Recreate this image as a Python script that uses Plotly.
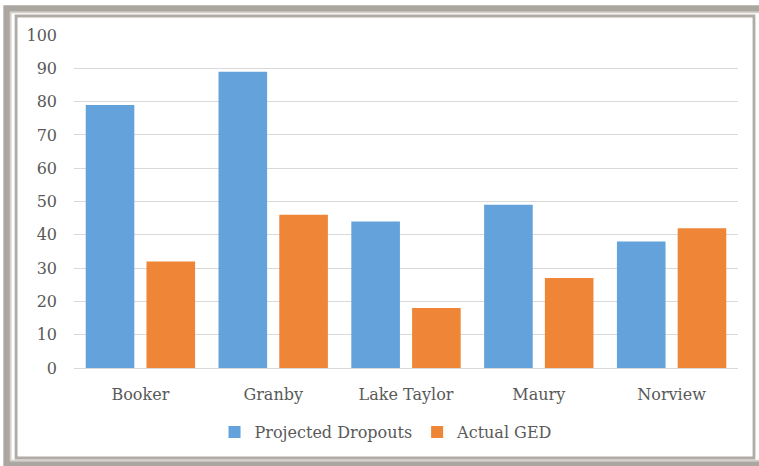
import plotly.graph_objects as go

categories = ["Booker", "Granby", "Lake Taylor", "Maury", "Norview"]
projected_dropouts = [79, 89, 44, 49, 38]
actual_ged = [32, 46, 18, 27, 42]
y_ticks = [0, 10, 20, 30, 40, 50, 60, 70, 80, 90, 100]

W, H = 759, 466
L, R, T, B = 73.5, 20.5, 35, 98
PW, PH = W - L - R, H - T - B

def px(x):
    return (x - L) / PW

def py(y):
    return (H - B - y) / PH

FONT = "DejaVu Serif"
FS = 16
TXT = "#595959"
fig = go.Figure()
fig.add_trace(go.Bar(name="Projected Dropouts", x=categories, y=projected_dropouts,
                     marker=dict(color="#63A2DA", line=dict(width=0))))
fig.add_trace(go.Bar(name="Actual GED", x=categories, y=actual_ged,
                     marker=dict(color="#EE8537", line=dict(width=0))))

shapes = [
    dict(type="rect", xref="paper", yref="paper", x0=px(6), x1=px(772), y0=py(8.5), y1=py(464.5),
         line=dict(color="#ABA69F", width=6.5), layer="above"),
    dict(type="rect", xref="paper", yref="paper", x0=px(10.2), x1=px(768), y0=py(12.6), y1=py(460.5),
         line=dict(color="#D3CFC9", width=1.5), layer="above"),
    dict(type="rect", xref="paper", yref="paper", x0=px(15.5), x1=px(754.5), y0=py(16), y1=py(458),
         line=dict(color="#B0ABA4", width=2.8), layer="above"),
]

fig.update_layout(
    width=W, height=H,
    margin=dict(l=L, r=R, t=T, b=B),
    paper_bgcolor="white", plot_bgcolor="white",
    barmode="group", bargap=0.085, bargroupgap=0.2,
    font=dict(family=FONT, size=FS, color=TXT),
    xaxis=dict(showgrid=False, showline=True, linecolor="#D9D9D9", linewidth=1,
               ticks="", tickfont=dict(family=FONT, size=FS, color=TXT), ticklabelstandoff=12),
    yaxis=dict(range=[0, 100], tickvals=y_ticks, showgrid=True, gridcolor="#D9D9D9",
               gridwidth=1, zeroline=False, ticks="", ticklabelstandoff=16,
               tickfont=dict(family=FONT, size=FS, color=TXT)),
    legend=dict(orientation="h", x=px(386), xanchor="center", y=py(432), yanchor="middle",
                font=dict(family=FONT, size=FS, color=TXT), itemwidth=30,
                traceorder="normal"),
    shapes=shapes,
)

fig.write_html("out.html")
